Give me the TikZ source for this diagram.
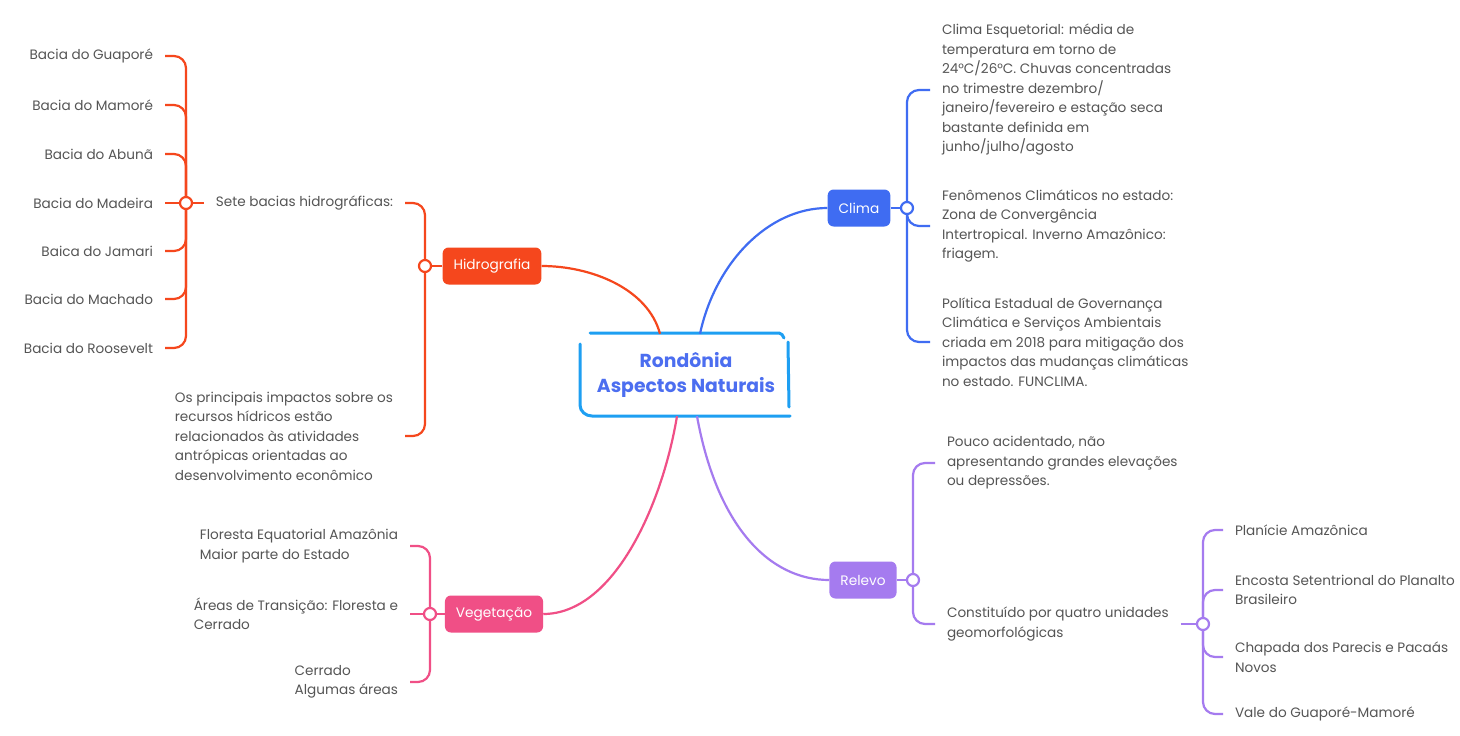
\documentclass[tikz,border=0pt]{standalone}
\usepackage{fontspec}
\setmainfont{Poppins}
\usepackage{tikz}
\usetikzlibrary{positioning}

\definecolor{hidro}{HTML}{F5471D}
\definecolor{clima}{HTML}{3F6CF2}
\definecolor{relevo}{HTML}{A57BEF}
\definecolor{veget}{HTML}{F04F86}
\definecolor{rootline}{HTML}{1E9FF2}
\definecolor{roottxt}{HTML}{4C6EF0}
\definecolor{txtgray}{HTML}{555555}

\begin{document}
\begin{tikzpicture}[x=1pt, y=-1pt,
  leaf/.style={text=txtgray, font=\fontsize{13.6}{19.5}\selectfont, inner sep=0pt, outer xsep=12pt, align=left},
  topic/.style={fill=#1, rounded corners=6pt, text=white, font=\fontsize{13.7}{16}\selectfont, minimum height=37pt, inner xsep=11pt},
  link/.style={draw=#1, line width=2.2pt},
  branch/.style={draw=#1, line width=2.2pt, rounded corners=12pt},
  hub/.style={circle, draw=#1, fill=white, line width=2.2pt, minimum size=12pt, inner sep=0pt},
  sketch/.style={draw=rootline, line width=3pt, line cap=round}]
 \fill[white] (0,0) rectangle (1460,736);
 \useasboundingbox (0,0) rectangle (1460,736);

 % centre
 \node[font=\fontsize{18.8}{25}\selectfont\bfseries, text=roottxt, align=center, minimum width=210pt, minimum height=82pt] (root) at (686,375) {Rondônia\\Aspectos Naturais};
 \draw[sketch] (590,333) -- (779,333) to[out=0,in=120] (784,338);
 \draw[sketch] (788,342) -- (789,407);
 \draw[sketch] (580,344) -- (580,405) to[out=270,in=180] (592,416) -- (790,416);

 % topics
 \node[topic=hidro]  (hidro)  at (492,266) {Hidrografia};
 \node[topic=clima]  (clima)  at (859,208) {Clima};
 \node[topic=veget]  (veget)  at (494,614) {Vegetação};
 \node[topic=relevo] (relevo) at (863,580) {Relevo};

 \coordinate (hidrohub)  at (425,266);
 \coordinate (baciahub)  at (186,203);
 \coordinate (climahub)  at (907,208);
 \coordinate (veghub)    at (430,614);
 \coordinate (relevohub) at (913,580);
 \coordinate (unidhub)   at (1203,624);

 % Hidrografia
 \node[leaf, anchor=east] (sete) at (405,203) {Sete bacias hidrográficas:};
 \node[leaf, anchor=east] (impactos) at (405,436) {Os principais impactos sobre os\\recursos hídricos estão\\relacionados às atividades\\antrópicas orientadas ao\\desenvolvimento econômico};
 \node[leaf, anchor=east] (b1) at (165,56)  {Bacia do Guaporé};
 \node[leaf, anchor=east] (b2) at (165,105) {Bacia do Mamoré};
 \node[leaf, anchor=east] (b3) at (165,154) {Bacia do Abunã};
 \node[leaf, anchor=east] (b4) at (165,203) {Bacia do Madeira};
 \node[leaf, anchor=east] (b5) at (165,251) {Baica do Jamari};
 \node[leaf, anchor=east] (b6) at (165,299) {Bacia do Machado};
 \node[leaf, anchor=east] (b7) at (165,348) {Bacia do Roosevelt};

 % Clima
 \node[leaf, anchor=west] (cl1) at (930,90) {Clima Esquetorial: média de\\temperatura em torno de\\24°C/26°C. Chuvas concentradas\\no trimestre dezembro/\\janeiro/fevereiro e estação seca\\bastante definida em\\junho/julho/agosto};
 \node[leaf, anchor=west] (cl2) at (930,226) {Fenômenos Climáticos no estado:\\Zona de Convergência\\Intertropical. Inverno Amazônico:\\friagem.};
 \node[leaf, anchor=west] (cl3) at (930,342) {Política Estadual de Governança\\Climática e Serviços Ambientais\\criada em 2018 para mitigação dos\\impactos das mudanças climáticas\\no estado. FUNCLIMA.};

 % Vegetação
 \node[leaf, anchor=east] (v1) at (410,546) {Floresta Equatorial Amazônia\\Maior parte do Estado};
 \node[leaf, anchor=east] (v2) at (410,614) {Áreas de Transição: Floresta e\\Cerrado};
 \node[leaf, anchor=east] (v3) at (410,682) {Cerrado\\Algumas áreas};

 % Relevo
 \node[leaf, anchor=west] (rl1) at (935,463) {Pouco acidentado, não\\apresentando grandes elevações\\ou depressões.};
 \node[leaf, anchor=west] (rl2) at (935,624) {Constituído por quatro unidades\\geomorfológicas};
 \node[leaf, anchor=west] (u1) at (1223,530) {Planície Amazônica};
 \node[leaf, anchor=west] (u2) at (1223,590) {Encosta Setentrional do Planalto\\Brasileiro};
 \node[leaf, anchor=west] (u3) at (1223,657) {Chapada dos Parecis e Pacaás\\Novos};
 \node[leaf, anchor=west] (u4) at (1223,714) {Vale do Guaporé-Mamoré};

 % main links
 \draw[link=hidro]  ([xshift=-26pt]root.north) .. controls +(-12,-45) and +(50,0) .. (hidro.east);
 \draw[link=clima]  ([xshift=14pt]root.north) .. controls +(15,-70) and +(-60,0) .. (clima.west);
 \draw[link=veget]  ([xshift=-9pt]root.south) .. controls +(-15,90) and +(70,0) .. (veget.east);
 \draw[link=relevo] ([xshift=11pt]root.south) .. controls +(20,110) and +(-60,0) .. (relevo.west);

 % branches
 \draw[link=hidro] (hidro.west) -- (hidrohub);
 \draw[branch=hidro] (hidrohub) |- (sete.east);
 \draw[branch=hidro] (hidrohub) |- (impactos.east);
 \draw[link=hidro] (sete.west) -- (b4.east);
 \foreach \b in {b1,b2,b3,b5,b6,b7}
   \draw[branch=hidro] (baciahub) |- (\b.east);

 \draw[link=clima] (clima.east) -- (climahub);
 \foreach \c in {cl1,cl2,cl3}
   \draw[branch=clima] (climahub) |- (\c.west);

 \draw[link=veget] (veget.west) -- (v2.east);
 \foreach \v in {v1,v3}
   \draw[branch=veget] (veghub) |- (\v.east);

 \draw[link=relevo] (relevo.east) -- (relevohub);
 \foreach \r in {rl1,rl2}
   \draw[branch=relevo] (relevohub) |- (\r.west);
 \draw[link=relevo] (rl2.east) -- (unidhub);
 \foreach \u in {u1,u2,u3,u4}
   \draw[branch=relevo] (unidhub) |- (\u.west);

 % hubs
 \foreach \h/\c in {hidrohub/hidro, baciahub/hidro, climahub/clima, veghub/veget, relevohub/relevo, unidhub/relevo}
   \node[hub=\c] at (\h) {};
\end{tikzpicture}
\end{document}
